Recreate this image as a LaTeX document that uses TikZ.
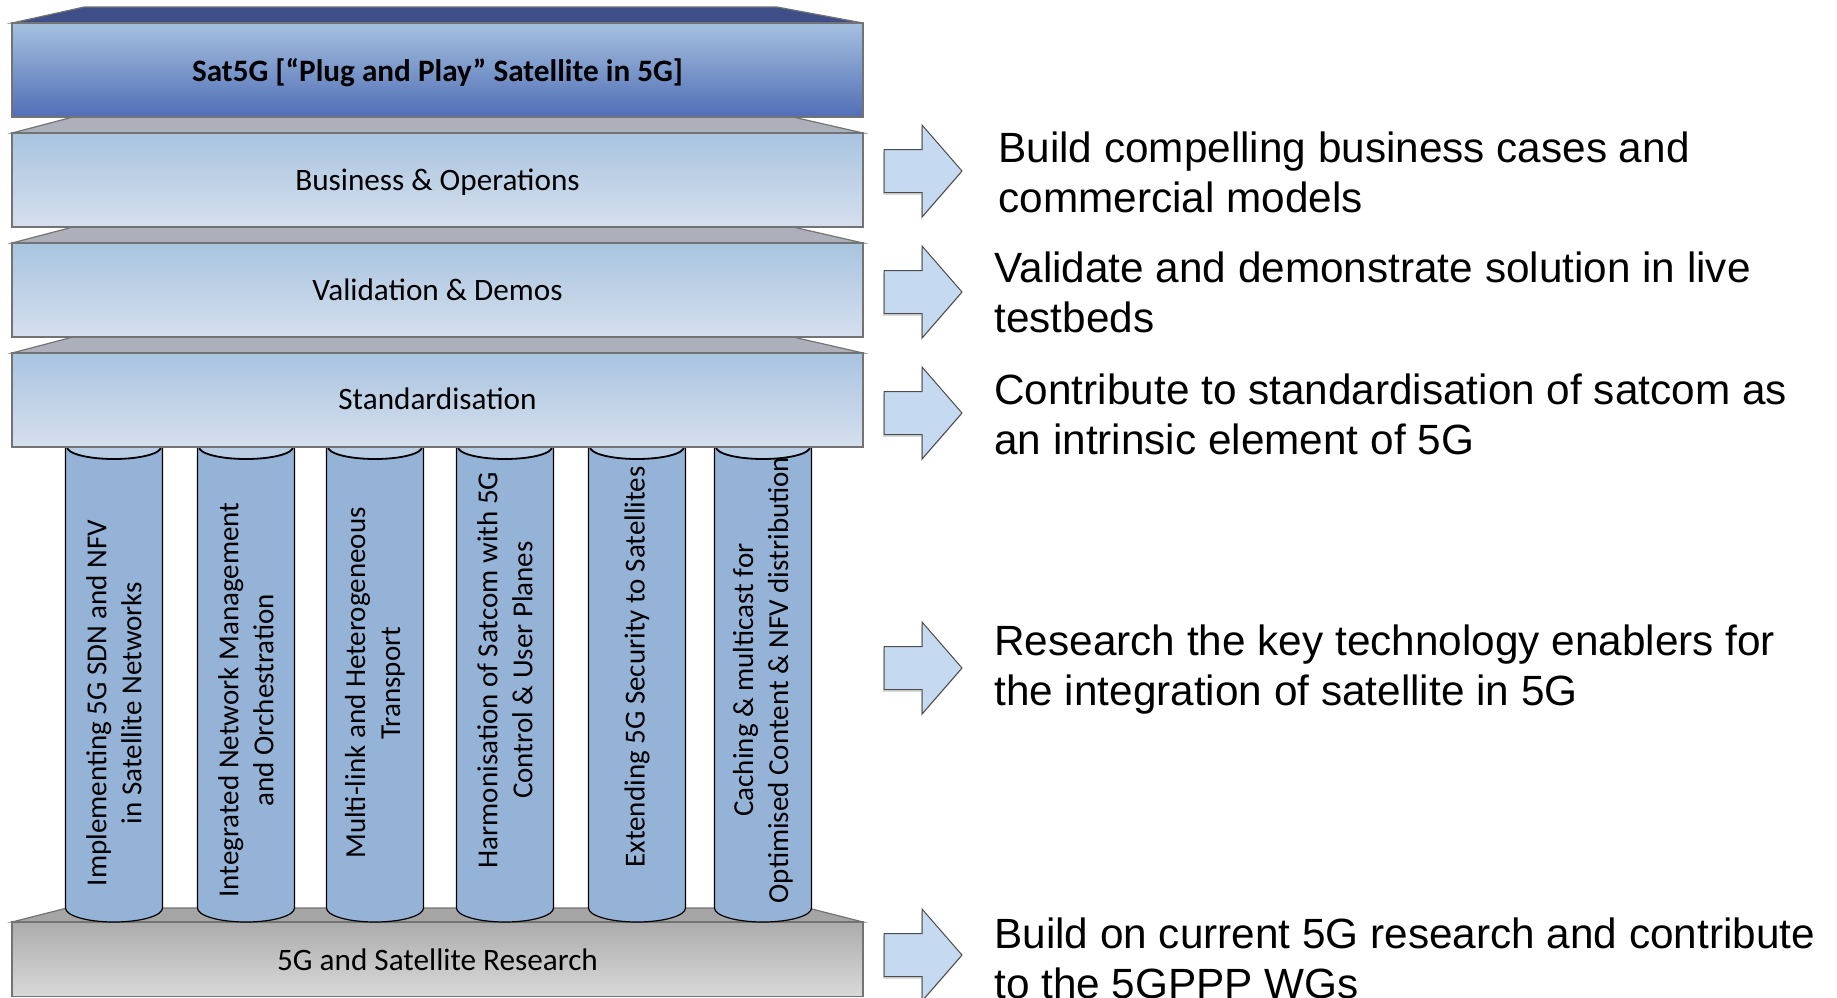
\documentclass[tikz,border=0pt]{standalone}
\usepackage{fontspec}
\setmainfont{Carlito}
\newfontfamily\arialfont{Liberation Sans}
\usetikzlibrary{shadows}
\definecolor{navy}{RGB}{61,78,137}
\definecolor{satTop}{RGB}{165,193,224}
\definecolor{satBot}{RGB}{80,110,182}
\definecolor{layTop}{RGB}{168,196,223}
\definecolor{layBot}{RGB}{214,223,238}
\definecolor{rim}{RGB}{173,176,187}
\definecolor{resTop}{RGB}{172,172,172}
\definecolor{resBot}{RGB}{217,217,217}
\definecolor{resRim}{RGB}{165,165,165}
\definecolor{pillar}{RGB}{149,179,215}
\definecolor{pillarTop}{RGB}{185,205,229}
\definecolor{arrowFill}{RGB}{197,217,240}
\tikzset{
  edge/.style={draw=black!55,line width=.6pt},
  layer/.style={font=\fontsize{15.6}{18.7}\selectfont},
  pillartext/.style={rotate=90,align=center,inner sep=0pt,font=\fontsize{14.5}{17.5}\selectfont},
  goal/.style={anchor=west,align=left,inner sep=0pt,font=\arialfont\fontsize{21.15}{25}\selectfont},
  blockarrow/.style={draw=black!70,line width=.5pt,fill=arrowFill,
    drop shadow={shadow xshift=-.4pt,shadow yshift=-1.2pt,opacity=.3}}
}
\begin{document}
\begin{tikzpicture}[x=.5pt,y=-.5pt]
  \useasboundingbox (0,0) rectangle (1837,997);
  % base layer
  \filldraw[edge,fill=resRim] (12,922) -- (67,908) -- (808,908) -- (863,922) -- cycle;
  \draw[edge,top color=resTop,bottom color=resBot] (12,922) rectangle (863,996.5);
  \node[layer] (res) at (437.5,960) {5G and Satellite Research};
  % pillars
  \foreach \x/\ty/\txt [count=\i] in {
      114/703/{Implementing 5G SDN and NFV\\in Satellite Networks},
      246/700/{Integrated Network Management\\and Orchestration},
      375/683/{Multi-link and Heterogeneous\\Transport},
      505/670/{Harmonisation of Satcom with 5G\\Control \& User Planes},
      637/667/{Extending 5G Security to Satellites},
      763/680/{Caching \& multicast for\\Optimised Content \& NFV distribution}} {
    \draw[fill=pillar,line width=.6pt] (\x-48.5,435) -- (\x-48.5,908)
      arc[start angle=180,end angle=360,x radius=24.25pt,y radius=7pt] -- (\x+48.5,435) -- cycle;
    \draw[fill=pillarTop,line width=.9pt] (\x,447) ellipse[x radius=23.5pt,y radius=6pt];
    \node[pillartext] (p\i) at (\x,\ty) {\txt};
  }
  % stacked layers
  \filldraw[edge,fill=rim] (12,353) -- (73,337) -- (793,337) -- (863,353) -- cycle;
  \draw[edge,top color=layTop,bottom color=layBot] (12,353) rectangle (863,447);
  \node[layer] (std) at (437.5,399) {Standardisation};
  \filldraw[edge,fill=rim] (12,243) -- (73,227) -- (793,227) -- (863,243) -- cycle;
  \draw[edge,top color=layTop,bottom color=layBot] (12,243) rectangle (863,337);
  \node[layer] (val) at (437.5,290) {Validation \& Demos};
  \filldraw[edge,fill=rim] (12,133) -- (73,117) -- (793,117) -- (863,133) -- cycle;
  \draw[edge,top color=layTop,bottom color=layBot] (12,133) rectangle (863,227);
  \node[layer] (bus) at (437.5,182) {Business \& Operations};
  \filldraw[edge,fill=navy] (12,23) -- (84,7) -- (777,7) -- (863,23) -- cycle;
  \draw[edge,top color=satTop,bottom color=satBot] (12,23) rectangle (863,117);
  \node[layer,font=\bfseries\fontsize{15.6}{18.7}\selectfont] (sat) at (437.5,73)
    {Sat5G [“Plug and Play” Satellite in 5G]};
  % arrows and goals
  \foreach \c in {171,292,413,668,955}
    \draw[blockarrow] (884,\c-21.5) -- (922,\c-21.5) -- (922,\c-46) -- (962,\c)
      -- (922,\c+46) -- (922,\c+21.5) -- (884,\c+21.5) -- cycle;
  \path (962,172) coordinate (a1) +(36,0) node[goal] (g1) {Build compelling business cases and\\commercial models};
  \path (962,292) coordinate (a2) +(32,0) node[goal] (g2) {Validate and demonstrate solution in live\\testbeds};
  \path (962,414) coordinate (a3) +(32,0) node[goal] (g3) {Contribute to standardisation of satcom as\\an intrinsic element of 5G};
  \path (962,670) coordinate (a4) +(32,0) node[goal] (g4) {Research the key technology enablers for\\the integration of satellite in 5G};
  \path (962,958) coordinate (a5) +(32,0) node[goal] (g5) {Build on current 5G research and contribute\\to the 5GPPP WGs};
\end{tikzpicture}
\end{document}
